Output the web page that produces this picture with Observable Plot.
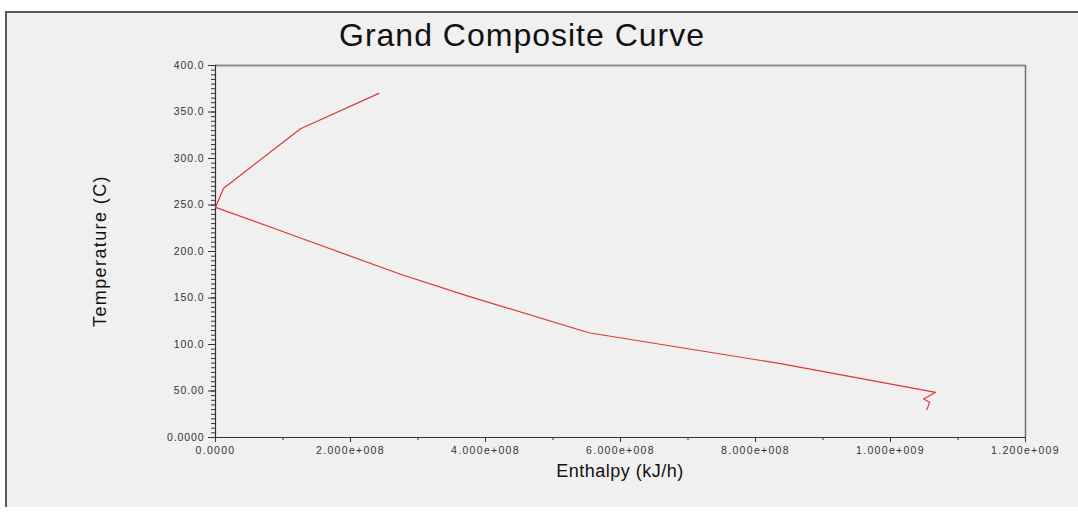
<!DOCTYPE html>
<html>
<head>
<meta charset="utf-8">
<script src="https://cdn.jsdelivr.net/npm/d3@7"></script>
<script src="https://cdn.jsdelivr.net/npm/@observablehq/plot@0.6"></script>
<style>
  html, body { margin: 0; padding: 0; background: #ffffff; }
  #wrap { position: relative; width: 1078px; height: 515px; overflow: hidden; background: #ffffff; font-family: "Liberation Sans", Arial, sans-serif; }
  #panel { position: absolute; left: 5px; top: 11px; right: 0; bottom: 8px; background: #f0f0f0; border-left: 2px solid #5a5a5a; border-top: 2px solid #5a5a5a; }
  #title { position: absolute; left: 0; width: 1044px; top: 19px; text-align: center; font-size: 32px; line-height: 1; color: #111; letter-spacing: 1px; }
  #ylabel { position: absolute; left: 100px; top: 251px; transform: translate(-50%, -50%) rotate(-90deg); font-size: 18px; color: #111; white-space: nowrap; letter-spacing: 1.4px; }
  #xlabel { position: absolute; left: 620px; top: 471px; transform: translate(-50%, -50%); font-size: 18px; color: #111; white-space: nowrap; letter-spacing: 0.5px; }
  #chart { position: absolute; left: 0; top: 0; }
  #chart svg { background: transparent !important; }
</style>
</head>
<body>
<div id="wrap">
  <div id="panel"></div>
  <div id="chart"></div>
  <div id="title">Grand Composite Curve</div>
  <div id="ylabel">Temperature (C)</div>
  <div id="xlabel">Enthalpy (kJ/h)</div>
</div>
<script>
// Grand composite curve points (enthalpy in kJ/h, temperature in C)
const enthalpy    = [2.42e8, 1.26e8, 1.2e7, 0,     1.26e8, 2.74e8, 3.73e8, 5.53e8, 8.37e8, 1.067e9, 1.049e9, 1.058e9, 1.054e9];
const temperature = [370,    332,    268,   247.5, 214.5,  175.5,  152.3,  112.6,  79.4,   48.6,    41.5,    38,      30];

// Axis ticks and their labels
const xTickValues = [0, 2e8, 4e8, 6e8, 8e8, 1e9, 1.2e9];
const xTickLabels = ["0.0000", "2.000e+008", "4.000e+008", "6.000e+008", "8.000e+008", "1.000e+009", "1.200e+009"];
const yTickValues = [0, 50, 100, 150, 200, 250, 300, 350, 400];
const yTickLabels = ["0.0000", "50.00", "100.0", "150.0", "200.0", "250.0", "300.0", "350.0", "400.0"];
const xMinorStep = 1e8;
const yMinorStep = 5;

const data = enthalpy.map((h, i) => ({h, t: temperature[i]}));
const xLab = new Map(xTickValues.map((v, i) => [v, xTickLabels[i]]));
const yLab = new Map(yTickValues.map((v, i) => [v, yTickLabels[i]]));
const xDomain = [xTickValues[0], xTickValues[xTickValues.length - 1]];
const yDomain = [yTickValues[0], yTickValues[yTickValues.length - 1]];
const xMinor = d3.range(xDomain[0], xDomain[1] + 1, xMinorStep);
const yMinor = d3.range(yDomain[0], yDomain[1] + 0.001, yMinorStep);

const chart = Plot.plot({
  width: 1078,
  height: 515,
  marginLeft: 215,
  marginRight: 53,
  marginTop: 65,
  marginBottom: 78,
  style: {background: "transparent", fontFamily: "Liberation Sans, Arial, sans-serif"},
  x: {domain: xDomain},
  y: {domain: yDomain},
  marks: [
    Plot.ruleY([yDomain[1]], {stroke: "#8a8a8a", strokeWidth: 2}),
    Plot.ruleX([xDomain[1]], {stroke: "#707070", strokeWidth: 1.5}),
    Plot.axisY({ticks: yMinor, tickSize: 4, tickFormat: () => "", stroke: "#333", label: null}),
    Plot.axisX({ticks: xMinor, tickSize: 3, tickFormat: () => "", stroke: "#333", label: null}),
    Plot.axisY({ticks: yTickValues, tickSize: 7, tickPadding: 4, tickFormat: d => yLab.get(d), fontSize: 10.5, fill: "#333", stroke: "#333", label: null}),
    Plot.axisX({ticks: xTickValues, tickSize: 5, tickPadding: 4, tickFormat: d => xLab.get(d), fontSize: 10.5, fill: "#333", stroke: "#333", label: null}),
    Plot.ruleX([xDomain[0]], {stroke: "#333", strokeWidth: 1.2}),
    Plot.ruleY([yDomain[0]], {stroke: "#333", strokeWidth: 1.2}),
    Plot.line(data, {x: "h", y: "t", stroke: "#dc3838", strokeWidth: 1.2})
  ]
});
chart.querySelectorAll("text").forEach(t => {
  if (t.closest("[aria-label='x-axis tick label']")) t.style.letterSpacing = "1.3px";
  if (t.closest("[aria-label='y-axis tick label']")) t.style.letterSpacing = "0.9px";
});
document.getElementById("chart").appendChild(chart);
</script>
</body>
</html>
